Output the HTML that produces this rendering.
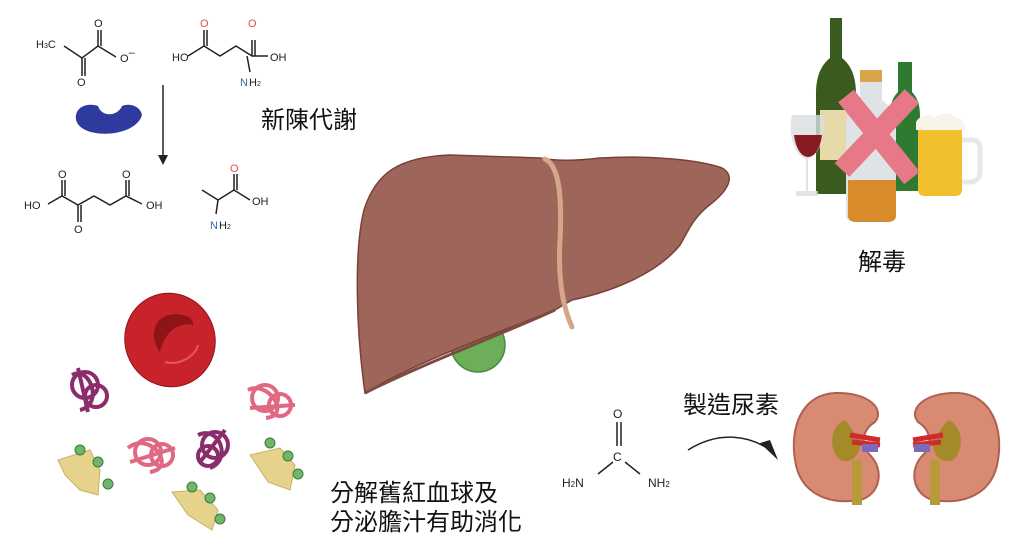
<!DOCTYPE html>
<html><head><meta charset="utf-8"><style>
html,body{margin:0;padding:0;background:#fff;}
svg{display:block;}
.t{font-family:"Liberation Sans","Noto Sans CJK TC",sans-serif;}
.c{font-family:"Liberation Sans","Noto Sans CJK TC",sans-serif;font-size:24px;fill:#111;}
</style></head><body>
<svg width="1024" height="550" viewBox="0 0 1024 550" xmlns="http://www.w3.org/2000/svg">
<!-- chemistry top-left -->
<g stroke="#222" stroke-width="1.5" fill="none">
<path d="M64 46 L82 58 L98 46 L116 57"/><path d="M82 58 V76 M85 58 V76"/><path d="M98 46 V30 M101 46 V30"/>
<path d="M188 56 L204 46 L220 56 L236 46 L252 56 L268 56"/><path d="M204 46 V30 M207 46 V30"/><path d="M252 56 L252 40 M255 56 V40"/>
<path d="M247 56 L250 72"/>
<path d="M48 204 L62 196 L78 205 L94 196 L110 205 L126 196 L142 204"/><path d="M62 196 V180 M65 196 V180"/><path d="M78 205 V222 M81 205 V222"/><path d="M126 196 V180 M129 196 V180"/>
<path d="M202 190 L218 200 L234 190 L250 200"/><path d="M234 190 V174 M237 190 V174"/><path d="M218 200 L216 214"/>
<path d="M163 85 V158"/>
</g>
<path d="M163 165 L158 155 L168 155 Z" fill="#222"/>
<g class="t" font-size="11" fill="#222">
<text x="36" y="48">H<tspan font-size="7">3</tspan>C</text><text x="77" y="86">O</text><text x="94" y="27">O</text><text x="120" y="62">O<tspan dy="-6">–</tspan></text>
<text x="172" y="61">HO</text><text x="200" y="27" fill="#e05050">O</text><text x="248" y="27" fill="#e05050">O</text><text x="270" y="61">OH</text>
<text x="240" y="86" fill="#2a6fb0">N</text><text x="249" y="86">H<tspan font-size="7">2</tspan></text>
<text x="24" y="209">HO</text><text x="58" y="178">O</text><text x="74" y="233">O</text><text x="122" y="178">O</text><text x="146" y="209">OH</text>
<text x="230" y="172" fill="#e05050">O</text><text x="252" y="205">OH</text><text x="210" y="229" fill="#2a6fb0">N</text><text x="219" y="229">H<tspan font-size="7">2</tspan></text>
</g>
<path d="M76 115 C72 140 135 140 142 115 C140 105 128 103 122 106 C118 116 102 118 98 106 C90 103 78 105 76 115Z" fill="#2f3a9e"/>
<text class="c" x="261" y="128">新陳代謝</text>

<!-- liver -->
<circle cx="478" cy="345" r="27" fill="#6cae5a" stroke="#4a8a3a" stroke-width="1.5"/>
<path d="M365 393 C356 330 354 250 364 210 C376 172 400 157 450 155 L540 158 C555 161 575 161 600 158 C650 155 700 160 722 168 C736 176 728 190 712 203 C692 218 688 232 680 245 C660 270 620 290 572 300 L555 310 C500 332 420 360 365 393Z" fill="#9e665a" stroke="#7a4035" stroke-width="1.5"/>
<path d="M365 393 C420 365 500 335 555 310" fill="none" stroke="#7f4a40" stroke-width="3"/>
<path d="M545 159 C560 166 562 200 560 240 C558 275 562 305 572 327" fill="none" stroke="#d4a78a" stroke-width="5" stroke-linecap="round"/>

<!-- bottles -->
<path d="M830 18 h12 v40 c10 8 14 20 14 36 v100 h-40 v-100 c0 -16 4 -28 14 -36z" fill="#3b5a1e"/>
<rect x="820" y="110" width="36" height="50" fill="#e8d9a8"/>
<path d="M792 115 h32 c2 20 -4 40 -16 44 v32 h10 v5 h-22 v-5 h10 v-32 c-12 -4 -18 -24 -14 -44z" fill="#d8dde0" opacity="0.8"/>
<path d="M794 135 h28 c-2 15 -8 22 -14 22 c-6 0 -12 -7 -14 -22z" fill="#8a1a22"/>
<path d="M898 62 h14 v30 c6 6 8 14 8 24 v75 h-30 v-75 c0 -10 2 -18 8 -24z" fill="#2e7a30"/>
<path d="M860 70 h22 v30 c8 6 14 14 14 24 v92 c0 4 -4 6 -8 6 h-34 c-4 0 -8 -2 -8 -6 v-92 c0 -10 6 -18 14 -24z" fill="#dfe3e6"/>
<path d="M848 180 h48 v36 c0 4 -4 6 -8 6 h-32 c-4 0 -8 -2 -8 -6z" fill="#d98a2a"/>
<rect x="860" y="70" width="22" height="12" fill="#d9a44a"/>
<path d="M918 130 h44 v60 c0 4 -3 6 -6 6 h-32 c-3 0 -6 -2 -6 -6z" fill="#f2c02e"/>
<path d="M916 122 c4 -8 14 -8 18 -4 c6 -6 16 -6 22 0 c6 0 10 6 8 12 h-48z" fill="#f7f4ea"/>
<path d="M962 140 h10 c6 0 8 4 8 10 v22 c0 6 -4 10 -10 10 h-8" fill="none" stroke="#e8e8e8" stroke-width="5"/>
<g stroke="#e67888" stroke-width="20" stroke-linecap="butt"><path d="M846 96 L912 178"/><path d="M912 96 L842 170"/></g>
<text class="c" x="858" y="270">解毒</text>

<!-- RBC -->
<ellipse cx="170" cy="340" rx="45" ry="47" fill="#c8232a" stroke="#8e1418" stroke-width="1" transform="rotate(-20 170 340)"/>
<path d="M155 328 C160 308 195 312 193 325 C180 322 165 330 160 352 C155 345 152 336 155 328 Z" fill="#8e1418"/>
<path d="M165 362 C180 366 195 356 198 345" fill="none" stroke="#e25a60" stroke-width="2"/>
<!-- protein blobs -->
<g fill="none" stroke-width="4">
<g stroke="#8a2d6a"><circle cx="85" cy="385" r="13"/><circle cx="96" cy="396" r="11"/><path d="M72 375 C90 365 104 405 80 410 M78 368 L88 412"/></g>
<g stroke="#8a2d6a"><circle cx="215" cy="445" r="13"/><circle cx="208" cy="456" r="10"/><path d="M198 435 C220 425 232 460 210 468 M225 430 L200 462"/></g>
<g stroke="#e06882"><circle cx="265" cy="398" r="13"/><circle cx="280" cy="405" r="11"/><path d="M248 390 C268 380 292 415 266 418 M250 408 L295 405"/></g>
<g stroke="#e06882"><circle cx="148" cy="452" r="13"/><circle cx="162" cy="455" r="11"/><path d="M128 448 C150 430 178 468 150 472 M130 462 L175 448"/></g>
</g>
<g fill="#e5d38c" stroke="#c6b266" stroke-width="1">
<path d="M58 460 L90 450 L100 470 L98 495 L80 490 L65 475Z"/>
<path d="M250 455 L280 448 L295 465 L290 490 L268 482Z"/>
<path d="M172 492 L200 490 L218 510 L212 530 L188 515Z"/>
</g>
<g fill="#6fb56a" stroke="#3e7a3a" stroke-width="1">
<circle cx="80" cy="450" r="5"/><circle cx="98" cy="462" r="5"/><circle cx="108" cy="484" r="5"/>
<circle cx="270" cy="443" r="5"/><circle cx="288" cy="456" r="5"/><circle cx="298" cy="474" r="5"/>
<circle cx="192" cy="487" r="5"/><circle cx="210" cy="498" r="5"/><circle cx="220" cy="519" r="5"/>
</g>
<text class="c" x="330" y="501">分解舊紅血球及</text>
<text class="c" x="330" y="530">分泌膽汁有助消化</text>

<!-- urea -->
<g stroke="#222" stroke-width="1.5" fill="none"><path d="M617 422 V446 M621 422 V446"/><path d="M613 462 L598 474 M625 462 L640 474"/><path d="M688 450 C720 430 750 436 770 450"/></g>
<path d="M778 460 L760 443 L770 440 Z" fill="#222"/>
<g class="t" font-size="12" fill="#222"><text x="613" y="418">O</text><text x="613" y="461">C</text><text x="562" y="487">H<tspan font-size="8">2</tspan>N</text><text x="648" y="487">NH<tspan font-size="8">2</tspan></text></g>
<text class="c" x="683" y="413">製造尿素</text>

<!-- kidneys -->
<g>
<path d="M835 393 C800 395 790 430 795 460 C800 495 830 505 860 500 C880 495 885 470 870 455 C860 445 862 430 875 422 C885 410 870 392 835 393Z" fill="#d98a73" stroke="#b06050" stroke-width="2"/>
<path d="M845 420 C830 425 828 450 840 460 C850 465 862 455 860 440 Z" fill="#a58a2a"/>
<rect x="852" y="460" width="10" height="45" fill="#b89a3a"/>
<path d="M850 435 L880 440 M852 442 L880 445" stroke="#d02a2a" stroke-width="5"/>
<rect x="862" y="444" width="16" height="8" fill="#7a6ab8"/>
</g>
<g>
<path d="M958 393 C993 395 1003 430 998 460 C993 495 963 505 933 500 C913 495 908 470 923 455 C933 445 931 430 918 422 C908 410 923 392 958 393Z" fill="#d98a73" stroke="#b06050" stroke-width="2"/>
<path d="M948 420 C963 425 965 450 953 460 C943 465 931 455 933 440 Z" fill="#a58a2a"/>
<rect x="930" y="460" width="10" height="45" fill="#b89a3a"/>
<path d="M943 435 L913 440 M941 442 L913 445" stroke="#d02a2a" stroke-width="5"/>
<rect x="914" y="444" width="16" height="8" fill="#7a6ab8"/>
</g>
</svg>
</body></html>
